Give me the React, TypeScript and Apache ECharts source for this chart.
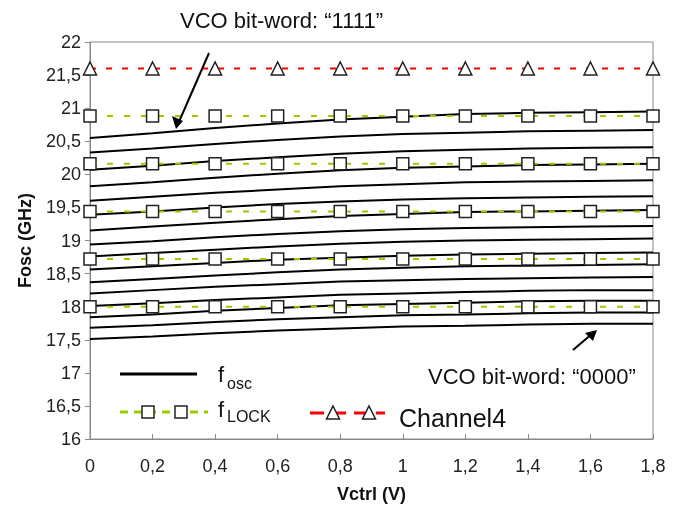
import React, { useEffect, useRef } from "react";
import * as echarts from "echarts";

const vctrl = [0, 0.2, 0.4, 0.6, 0.8, 1.0, 1.2, 1.4, 1.6, 1.8];

// f_osc for VCO bit-words "0000" ... "1111" (GHz), sampled at vctrl
const fosc0000 = [17.51, 17.55, 17.6, 17.64, 17.67, 17.7, 17.71, 17.73, 17.74, 17.74];
const fosc0001 = [17.68, 17.72, 17.77, 17.81, 17.84, 17.87, 17.88, 17.9, 17.91, 17.91];
const fosc0010 = [17.84, 17.88, 17.94, 17.98, 18.02, 18.04, 18.06, 18.08, 18.09, 18.09];
const fosc0011 = [18.01, 18.05, 18.1, 18.14, 18.18, 18.2, 18.22, 18.24, 18.25, 18.25];
const fosc0100 = [18.2, 18.25, 18.3, 18.34, 18.38, 18.4, 18.42, 18.43, 18.44, 18.45];
const fosc0101 = [18.37, 18.42, 18.47, 18.52, 18.56, 18.59, 18.61, 18.62, 18.63, 18.64];
const fosc0110 = [18.56, 18.61, 18.66, 18.71, 18.74, 18.77, 18.79, 18.8, 18.81, 18.82];
const fosc0111 = [18.76, 18.81, 18.86, 18.91, 18.95, 18.98, 19.0, 19.01, 19.02, 19.03];
const fosc1000 = [18.94, 18.99, 19.05, 19.1, 19.14, 19.17, 19.19, 19.2, 19.21, 19.22];
const fosc1001 = [19.15, 19.21, 19.27, 19.32, 19.37, 19.4, 19.43, 19.44, 19.45, 19.46];
const fosc1010 = [19.39, 19.44, 19.5, 19.55, 19.59, 19.62, 19.64, 19.65, 19.66, 19.67];
const fosc1011 = [19.6, 19.66, 19.72, 19.77, 19.82, 19.85, 19.88, 19.89, 19.9, 19.91];
const fosc1100 = [19.82, 19.88, 19.95, 20.01, 20.06, 20.1, 20.12, 20.14, 20.15, 20.16];
const fosc1101 = [20.07, 20.13, 20.2, 20.26, 20.31, 20.35, 20.37, 20.39, 20.4, 20.41];
const fosc1110 = [20.33, 20.39, 20.46, 20.52, 20.57, 20.61, 20.63, 20.65, 20.66, 20.67];
const fosc1111 = [20.55, 20.62, 20.7, 20.77, 20.83, 20.87, 20.91, 20.93, 20.94, 20.95];

const foscCurves = [
  fosc0000, fosc0001, fosc0010, fosc0011, fosc0100, fosc0101, fosc0110, fosc0111,
  fosc1000, fosc1001, fosc1010, fosc1011, fosc1100, fosc1101, fosc1110, fosc1111,
];

const fLock = [18.0, 18.72, 19.44, 20.16, 20.88];
const channel4 = 21.6;

const FONT = "Liberation Sans, Arial, sans-serif";
const fmt = (v: number) => String(+v.toFixed(2)).replace(".", ",");

export default function App() {
  const ref = useRef<HTMLDivElement>(null);
  useEffect(() => {
    const chart = echarts.init(ref.current!, null, { renderer: "svg" });
    const series: any[] = [];
    foscCurves.forEach((c, i) => {
      series.push({
        type: "line",
        name: "fosc" + i,
        data: vctrl.map((x, j) => [x, c[j]]),
        showSymbol: false,
        symbol: "none",
        lineStyle: { color: "#000", width: 2 },
        z: 2,
      });
    });
    fLock.forEach((v, i) => {
      series.push({
        type: "line",
        name: "lock" + i,
        data: vctrl.map((x) => [x, v]),
        symbol: "rect",
        symbolSize: 12,
        itemStyle: { color: "#fff", borderColor: "#222", borderWidth: 1.5 },
        lineStyle: { color: "#99cc00", width: 2, type: [6, 11] },
        z: 3,
      });
    });
    series.push({
      type: "line",
      name: "Channel4",
      data: vctrl.map((x) => [x, channel4]),
      symbol: "triangle",
      symbolSize: 13,
      itemStyle: { color: "#fff", borderColor: "#222", borderWidth: 1.5 },
      lineStyle: { color: "#ff0000", width: 2, type: [6, 10] },
      z: 3,
    });

    const txt = (x: number, y: number, text: string, size: number, extra: any = {}) => ({
      type: "text",
      x,
      y,
      style: {
        text,
        fontSize: size,
        fontFamily: FONT,
        fill: "#111",
        verticalAlign: "middle",
        align: "left",
        ...extra,
      },
      z: 10,
    });
    const tri = (cx: number, cy: number) => ({
      type: "polygon",
      shape: { points: [[cx, cy - 7], [cx + 6.5, cy + 6], [cx - 6.5, cy + 6]] },
      style: { fill: "#fff", stroke: "#222", lineWidth: 1.5 },
      z: 11,
    });
    const sq = (cx: number, cy: number) => ({
      type: "rect",
      shape: { x: cx - 6, y: cy - 6, width: 12, height: 12 },
      style: { fill: "#fff", stroke: "#222", lineWidth: 1.5 },
      z: 11,
    });

    chart.setOption({
      animation: false,
      grid: {
        left: 90,
        right: 25,
        top: 42,
        bottom: 67,
        show: true,
        borderColor: "#888",
        borderWidth: 1,
        backgroundColor: "transparent",
      },
      xAxis: {
        type: "value",
        min: 0,
        max: 1.8,
        interval: 0.2,
        name: "Vctrl (V)",
        nameLocation: "middle",
        nameGap: 46,
        nameTextStyle: { fontFamily: FONT, fontSize: 18, fontWeight: "bold", color: "#111" },
        axisLine: { show: true, lineStyle: { color: "#888", width: 1 } },
        axisTick: { show: true, inside: true, length: 5, lineStyle: { color: "#888" } },
        splitLine: { show: false },
        axisLabel: {
          margin: 18,
          fontFamily: FONT,
          fontSize: 18,
          color: "#222",
          formatter: (v: number) => fmt(v),
        },
      },
      yAxis: {
        type: "value",
        min: 16,
        max: 22,
        interval: 0.5,
        name: "Fosc (GHz)",
        nameLocation: "middle",
        nameGap: 56,
        nameTextStyle: { fontFamily: FONT, fontSize: 18, fontWeight: "bold", color: "#111" },
        axisLine: { show: true, lineStyle: { color: "#888", width: 1 } },
        axisTick: { show: true, inside: false, length: 5, lineStyle: { color: "#888" } },
        splitLine: { show: false },
        axisLabel: {
          margin: 9,
          fontFamily: FONT,
          fontSize: 18,
          color: "#222",
          formatter: (v: number) => fmt(v),
        },
      },
      series,
      graphic: [
        txt(180, 20, "VCO bit-word: \u201c1111\u201d", 22),
        txt(428, 376, "VCO bit-word: \u201c0000\u201d", 22),
        // arrows
        { type: "line", shape: { x1: 209, y1: 53, x2: 178, y2: 124 }, style: { stroke: "#000", lineWidth: 2 }, z: 10 },
        { type: "polygon", shape: { points: [[176, 129], [172, 116], [183, 121]] }, style: { fill: "#000" }, z: 10 },
        { type: "line", shape: { x1: 573, y1: 350, x2: 593, y2: 333 }, style: { stroke: "#000", lineWidth: 2 }, z: 10 },
        { type: "polygon", shape: { points: [[597, 330], [585, 333], [593, 341]] }, style: { fill: "#000" }, z: 10 },
        // legend: f_osc
        { type: "line", shape: { x1: 120, y1: 374, x2: 197, y2: 374 }, style: { stroke: "#000", lineWidth: 3 }, z: 10 },
        txt(218, 374, "f", 22),
        txt(227, 383, "osc", 16),
        // legend: f_LOCK
        { type: "line", shape: { x1: 120, y1: 412, x2: 208, y2: 412 }, style: { stroke: "#99cc00", lineWidth: 3, lineDash: [8, 6] }, z: 10 },
        sq(148, 412),
        sq(181, 412),
        txt(218, 409, "f", 22),
        txt(227, 416, "LOCK", 16),
        // legend: Channel4
        { type: "line", shape: { x1: 310, y1: 413, x2: 385, y2: 413 }, style: { stroke: "#ff0000", lineWidth: 3, lineDash: [14, 8] }, z: 10 },
        tri(333, 413),
        tri(369, 413),
        txt(399, 418, "Channel4", 25),
      ],
    });
    return () => chart.dispose();
  }, []);
  return (
    <div
      ref={ref}
      style={{ position: "fixed", left: 0, top: 0, width: 678, height: 508 }}
    />
  );
}
